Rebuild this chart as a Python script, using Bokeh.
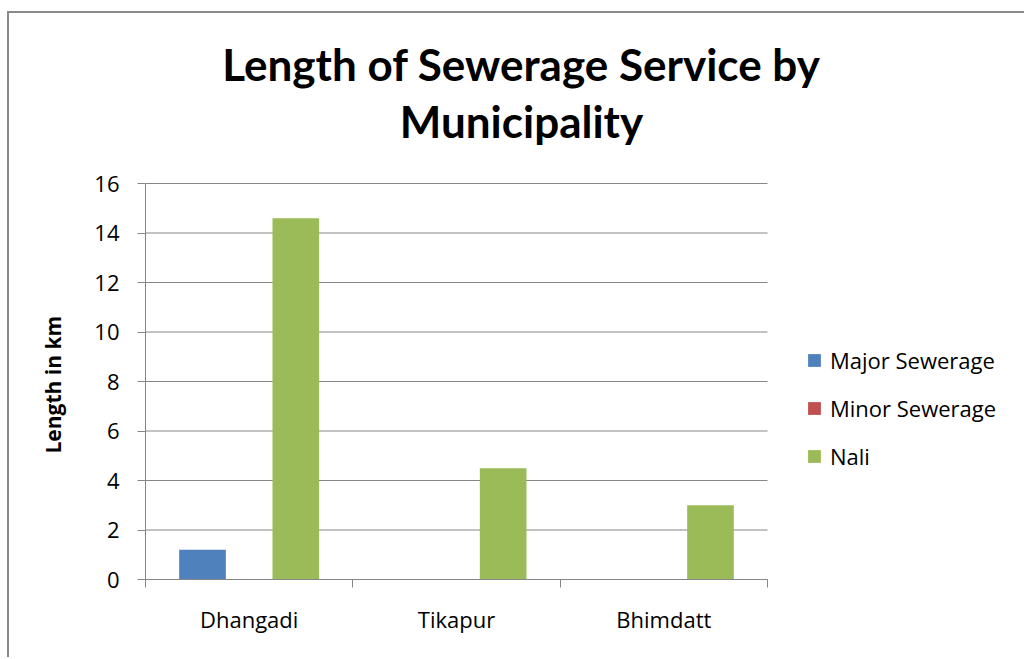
import numpy as np
from bokeh.plotting import figure
from bokeh.models import (Range1d, FixedTicker, Legend, LegendItem, Label, Title,
                          ColumnDataSource)
from bokeh.embed import file_html
from bokeh.resources import INLINE

# ---- data ----
municipalities = ["Dhangadi", "Tikapur", "Bhimdatt"]
series_names = ["Major Sewerage", "Minor Sewerage", "Nali"]
major_sewerage = [1.2, 0.0, 0.0]
minor_sewerage = [0.0, 0.0, 0.0]
nali = [14.6, 4.5, 3.0]
y_ticks = [0, 2, 4, 6, 8, 10, 12, 14, 16]
title_lines = ["Length of Sewerage Service by", "Municipality"]
y_label = "Length in km"

series_values = [major_sewerage, minor_sewerage, nali]
series_colors = ["#4F81BD", "#C0504D", "#9BBB59"]

FONT = "Open Sans"
TFONT = "Lato"
GRAY = "#868686"

# ---- layout (pixels) ----
W, H = 1017, 646
LEFT, BOTTOM = 136, 80
AREA_W, AREA_H = 622, 396          # pixel size of the 0..n x 0..16 plotting area
frame_w, frame_h = W - LEFT, H - BOTTOM

n = len(municipalities)
y_max = max(y_ticks)
x_end = n * frame_w / AREA_W
y_end = y_max * frame_h / AREA_H

centers = np.arange(n) + 0.5
bounds = np.arange(n + 1).astype(float)
bar_w = 0.225
offsets = [-bar_w, 0.0, bar_w]

p = figure(width=W, height=H, output_backend="svg", toolbar_location=None,
           title=None, x_range=Range1d(0, x_end), y_range=Range1d(0, y_end),
           min_border_left=LEFT, min_border_right=0,
           min_border_top=0, min_border_bottom=BOTTOM)
p.styles = {"border-left": "2px solid #898989", "border-top": "2px solid #898989",
            "margin-top": "11px", "margin-left": "7px"}
p.outline_line_color = None
p.background_fill_color = "white"
p.border_fill_color = "white"
p.xgrid.visible = False
p.ygrid.visible = False

# horizontal gridlines over the category area only
p.segment(x0=[0] * len(y_ticks), x1=[n] * len(y_ticks), y0=y_ticks, y1=y_ticks,
          line_color=GRAY, line_width=1)

renderers = []
for name, vals, col, off in zip(series_names, series_values, series_colors, offsets):
    src = ColumnDataSource(dict(x=centers + off, top=vals))
    r = p.vbar(x="x", top="top", width=bar_w, source=src,
               fill_color=col, line_color=None)
    renderers.append((name, r))

# y axis
p.yaxis.bounds = (0, y_max)
p.yaxis.ticker = FixedTicker(ticks=y_ticks)
p.yaxis.axis_line_color = GRAY
p.yaxis.major_tick_line_color = GRAY
p.yaxis.major_tick_out = 8
p.yaxis.major_tick_in = 0
p.yaxis.minor_tick_line_color = None
p.yaxis.major_label_text_font = FONT
p.yaxis.major_label_text_font_size = "22px"
p.yaxis.major_label_text_color = "black"
p.yaxis.major_label_standoff = 18

# y axis title, starting 126px above the x axis (centred on the 0..16 span)
p.add_layout(Title(text=y_label, align="left", offset=126, standoff=50,
                   vertical_align="bottom",
                   text_font=FONT, text_font_size="21px", text_font_style="bold",
                   text_color="black"), "left")

# x axis: labels at category centres, ticks at category boundaries
p.xaxis.bounds = (0, n)
p.xaxis.ticker = FixedTicker(ticks=list(centers), minor_ticks=list(bounds))
p.xaxis.major_label_overrides = {float(c): m for c, m in zip(centers, municipalities)}
p.xaxis.axis_line_color = GRAY
p.xaxis.major_tick_out = 0
p.xaxis.major_tick_in = 0
p.xaxis.minor_tick_line_color = GRAY
p.xaxis.minor_tick_out = 8
p.xaxis.minor_tick_in = 0
p.xaxis.major_label_text_font = FONT
p.xaxis.major_label_text_font_size = "22px"
p.xaxis.major_label_text_color = "black"
p.xaxis.major_label_standoff = 16

legend = Legend(items=[LegendItem(label=nm, renderers=[r]) for nm, r in renderers],
                location=(661, 108), orientation="vertical",
                glyph_width=16, glyph_height=16, label_standoff=8,
                spacing=18, padding=0, margin=0,
                border_line_alpha=0, background_fill_alpha=0,
                label_text_font=FONT, label_text_font_size="22px",
                label_text_color="black")
p.add_layout(legend, "center")

# two-line chart title, centred over the whole chart
for txt, y in zip(title_lines, [516, 459]):
    p.add_layout(Label(x=376, y=y, x_units="screen", y_units="screen", text=txt,
                       text_align="center", text_baseline="alphabetic",
                       text_font=TFONT, text_font_size="44px",
                       text_font_style="bold", text_color="black"))

open("out.html", "w").write(file_html(p, INLINE))
